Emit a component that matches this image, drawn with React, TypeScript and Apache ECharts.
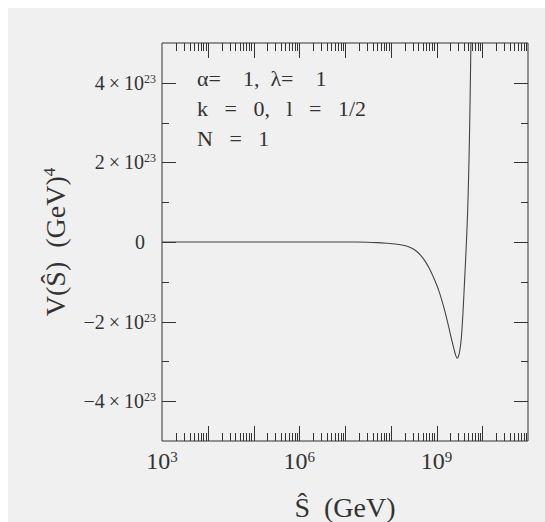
import React, { useEffect, useRef } from 'react';
import * as echarts from 'echarts';

// log10 of S-hat (GeV)
const logS = [3, 5, 7, 7.5, 7.7, 7.9, 8.1, 8.3, 8.45, 8.55, 8.65, 8.75, 8.85, 8.95, 9.05, 9.15, 9.25, 9.32, 9.38, 9.42, 9.45, 9.48, 9.51, 9.54, 9.57, 9.6, 9.63, 9.66, 9.68, 9.7, 9.72, 9.74, 9.76];
// V(S-hat) in units of 1e23 GeV^4
const potentialE23 = [0, 0, 0, -0.005, -0.015, -0.03, -0.05, -0.09, -0.15, -0.22, -0.33, -0.48, -0.68, -0.93, -1.22, -1.6, -2.05, -2.4, -2.68, -2.85, -2.92, -2.87, -2.72, -2.45, -1.95, -1.3, -0.6, 0.15, 0.75, 1.55, 2.6, 4.0, 5.7];

const xLabelExponents = [3, 6, 9];
const yLabelValues = [-4, -2, 0, 2, 4];
const xMajorTicks = [4, 5, 6, 7, 8, 9, 10];
const yMajorTicks = [-4, -2, 0, 2, 4];
const yMinorTicks = [-3, -1, 1, 3];
const annotationLines = [
  'α=\u00A0\u00A0\u00A0\u00A01,\u00A0\u00A0λ=\u00A0\u00A0\u00A0\u00A01',
  'k\u00A0\u00A0\u00A0=\u00A0\u00A0\u00A00,\u00A0\u00A0\u00A0l\u00A0\u00A0\u00A0=\u00A0\u00A0\u00A01/2',
  'N\u00A0\u00A0\u00A0=\u00A0\u00A0\u00A01',
];

const X_MIN = 3;
const X_MAX = 11;
const Y_MIN = -5;
const Y_MAX = 5;
const FONT = "'Liberation Serif', 'Times New Roman', serif";
const INK = '#333333';

export default function App() {
  const ref = useRef<HTMLDivElement>(null);

  useEffect(() => {
    if (!ref.current) return;
    const chart = echarts.init(ref.current, null, { renderer: 'svg' });

    // tick marks: [value, side, length]; side 0 bottom, 1 top, 2 left, 3 right
    const ticks: number[][] = [];
    xMajorTicks.forEach((v) => {
      ticks.push([v, 0, 15]);
      ticks.push([v, 1, 15]);
    });
    for (let d = X_MIN; d < X_MAX; d++) {
      for (let k = 2; k <= 9; k++) {
        const v = d + Math.log10(k);
        ticks.push([v, 0, 8]);
        ticks.push([v, 1, 8]);
      }
    }
    yMajorTicks.forEach((v) => {
      ticks.push([v, 2, 14]);
      ticks.push([v, 3, 14]);
    });
    yMinorTicks.forEach((v) => {
      ticks.push([v, 2, 7]);
      ticks.push([v, 3, 7]);
    });

    const option: any = {
      animation: false,
      backgroundColor: '#f0f0f0',
      grid: {
        left: 154,
        top: 35,
        right: 17,
        bottom: 81,
        containLabel: false,
        outerBoundsMode: 'none',
        show: true,
        borderColor: INK,
        borderWidth: 1,
        backgroundColor: 'transparent',
      },
      xAxis: {
        type: 'value',
        min: X_MIN,
        max: X_MAX,
        interval: 1,
        axisLine: { show: false },
        axisTick: { show: false },
        splitLine: { show: false },
        axisLabel: {
          margin: 8,
          formatter: (v: number) =>
            xLabelExponents.includes(Math.round(v)) && Math.abs(v - Math.round(v)) < 1e-6
              ? `{m|10}{s|${Math.round(v)}}`
              : '',
          rich: {
            m: { fontSize: 24, fontFamily: FONT, color: INK },
            s: { fontSize: 15, fontFamily: FONT, color: INK, verticalAlign: 'top' },
          },
        },
        name: 'Ŝ\u00A0\u00A0(GeV)',
        nameLocation: 'middle',
        nameGap: 52,
        nameTextStyle: { fontSize: 28, fontFamily: FONT, color: INK },
      },
      yAxis: {
        type: 'value',
        min: Y_MIN,
        max: Y_MAX,
        interval: 1,
        axisLine: { show: false },
        axisTick: { show: false },
        splitLine: { show: false },
        axisLabel: {
          margin: 6,
          formatter: (v: number) => {
            const r = Math.round(v);
            if (!yLabelValues.includes(r)) return '';
            if (r === 0) return '{z|0}';
            const sign = r < 0 ? '\u2212' : '';
            return `{m|${sign}${Math.abs(r)}\u2009×\u200910}{s|23}`;
          },
          rich: {
            m: { fontSize: 20, fontFamily: FONT, color: INK },
            s: { fontSize: 12, fontFamily: FONT, color: INK, verticalAlign: 'top' },
            z: { fontSize: 20, fontFamily: FONT, color: INK, padding: [0, 11, 0, 0] },
          },
        },
        name: '{m|V(Ŝ)\u00A0\u00A0(GeV)}{s|4}',
        nameLocation: 'middle',
        nameRotate: 90,
        nameGap: 93,
        nameTextStyle: {
          rich: {
            m: { fontSize: 28, fontFamily: FONT, color: INK },
            s: { fontSize: 17, fontFamily: FONT, color: INK, verticalAlign: 'top' },
          },
        },
      },
      graphic: annotationLines.map((t, i) => ({
        type: 'text',
        x: 189,
        y: 70 + i * 30,
        silent: true,
        style: {
          text: t,
          fontSize: 22,
          fontFamily: FONT,
          fill: INK,
          textAlign: 'left',
          textVerticalAlign: 'middle',
        },
      })),
      series: [
        {
          type: 'line',
          data: logS.map((x, i) => [x, potentialE23[i]]),
          showSymbol: false,
          smooth: 0.25,
          clip: true,
          lineStyle: { color: '#444', width: 1.1 },
          silent: true,
        },
        {
          type: 'custom',
          silent: true,
          data: ticks,
          renderItem: (_params: any, api: any) => {
            const v = api.value(0);
            const side = api.value(1);
            const len = api.value(2);
            let x1 = 0, y1 = 0, x2 = 0, y2 = 0;
            if (side === 0) {
              const p = api.coord([v, Y_MIN]);
              x1 = x2 = Math.round(p[0]) + 0.5; y1 = p[1]; y2 = p[1] - len;
            } else if (side === 1) {
              const p = api.coord([v, Y_MAX]);
              x1 = x2 = Math.round(p[0]) + 0.5; y1 = p[1]; y2 = p[1] + len;
            } else if (side === 2) {
              const p = api.coord([X_MIN, v]);
              y1 = y2 = Math.round(p[1]) + 0.5; x1 = p[0]; x2 = p[0] + len;
            } else {
              const p = api.coord([X_MAX, v]);
              y1 = y2 = Math.round(p[1]) + 0.5; x1 = p[0]; x2 = p[0] - len;
            }
            return {
              type: 'line',
              shape: { x1, y1, x2, y2 },
              style: { stroke: INK, lineWidth: 1 },
            };
          },
        },
      ],
    };

    chart.setOption(option);
    return () => chart.dispose();
  }, []);

  return (
    <div
      ref={ref}
      style={{ position: 'absolute', left: 8, top: 8, width: 537, height: 514, background: '#f0f0f0' }}
    />
  );
}
